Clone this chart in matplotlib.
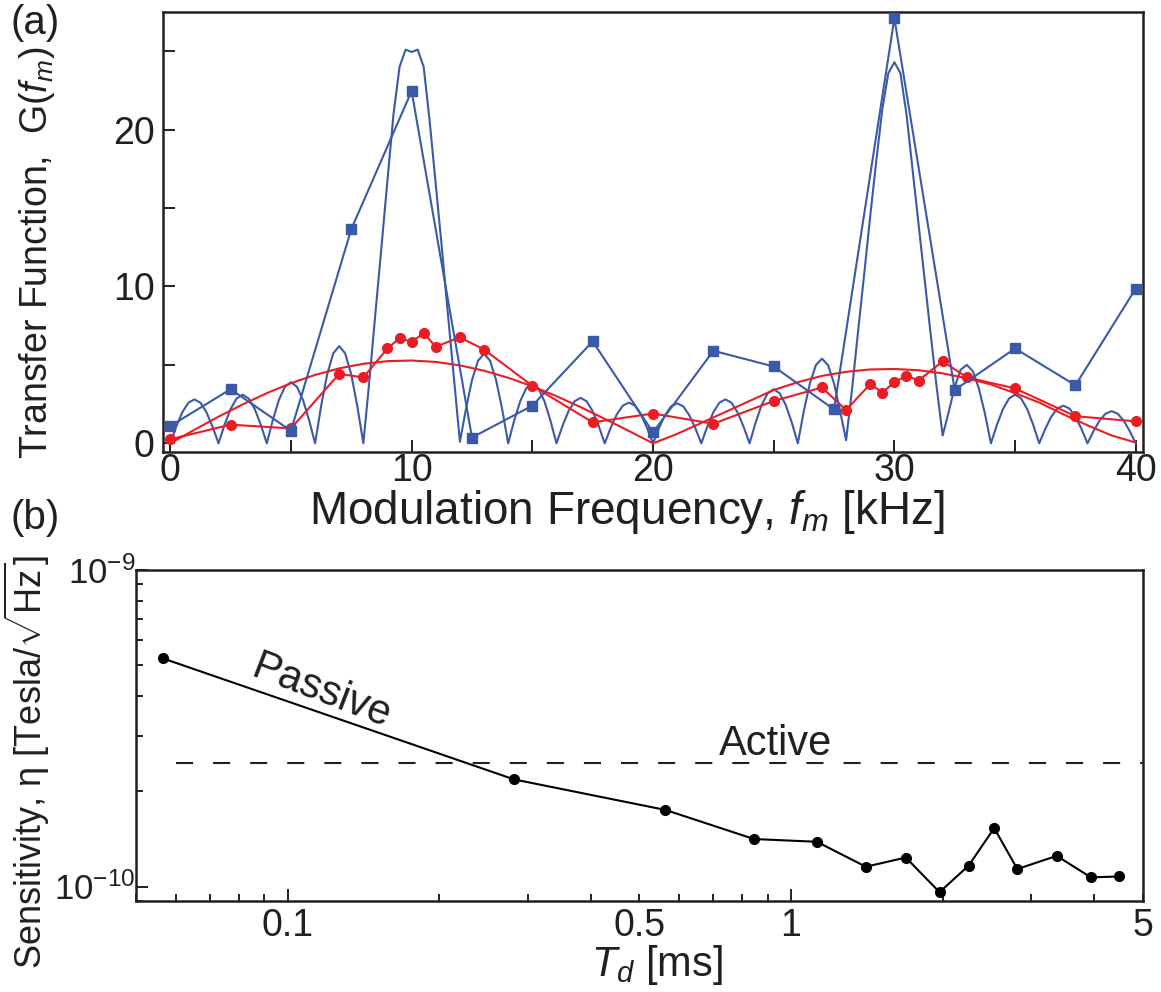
import numpy as np
import matplotlib
matplotlib.use("Agg")
import matplotlib.pyplot as plt
from matplotlib.ticker import FixedLocator, FuncFormatter, NullFormatter, LogLocator

plt.rcParams['font.family'] = ['Liberation Sans', 'DejaVu Sans']
plt.rcParams['mathtext.fontset'] = 'custom'
plt.rcParams['mathtext.rm'] = 'Liberation Sans'
plt.rcParams['mathtext.it'] = 'Liberation Sans:italic'
plt.rcParams['mathtext.bf'] = 'Liberation Sans:bold'

# ---------------- data: panel (a) ----------------
# measured transfer function (blue squares)
blue_freq = [0, 2.5, 5, 7.5, 10, 12.5, 15, 17.5, 20, 22.5, 25, 27.5, 30, 32.5, 35, 37.5, 40]
blue_gain = [1.1, 3.45, 0.8, 13.65, 22.46, 0.37, 2.4, 6.5, 0.7, 5.9, 4.9, 2.16, 27.1, 3.4, 6.05, 3.7, 9.87]

# measured transfer function (red circles)
red_freq = [0, 2.5, 5, 7, 8, 9, 9.5, 10, 10.5, 11, 12, 13, 15, 17.5, 20, 22.5, 25,
            27, 28, 29, 29.5, 30, 30.5, 31, 32, 33, 35, 37.5, 40]
red_gain = [0.26, 1.19, 0.95, 4.43, 4.2, 6.05, 6.7, 6.48, 7.02, 6.16, 6.76, 5.98, 3.67, 1.34, 1.9, 1.25, 2.7,
            3.56, 2.12, 3.78, 3.24, 3.89, 4.32, 4.0, 5.23, 4.21, 3.5, 1.73, 1.4]

# theory curve, blue (read every 0.25 kHz from 0 to 40)
blue_theory = [
    0, 1.07, 1.98, 2.59, 2.8, 2.59, 1.98, 1.07, 0,
    1.19, 2.19, 2.86, 3.1, 2.86, 2.19, 1.19, 0,
    1.49, 2.76, 3.6, 3.9, 3.6, 2.76, 1.49, 0,
    2.37, 4.38, 5.73, 6.2, 5.73, 4.38, 2.37, 0,
    4.0, 8.3, 12.5, 16.8, 21.0, 24.0, 25.1, 24.95, 25.1, 24.0, 20.5, 16.5, 12.5, 8.3, 4.2, 0.1,
    2.18, 4.03, 5.27, 5.7, 5.27, 4.03, 2.18, 0,
    1.46, 2.69, 3.51, 3.8, 3.51, 2.69, 1.46, 0,
    1.11, 2.05, 2.68, 2.9, 2.68, 2.05, 1.11, 0,
    1.0, 1.84, 2.4, 2.6, 2.4, 1.84, 1.0, 0,
    0.98, 1.8, 2.36, 2.55, 2.36, 1.8, 0.98, 0,
    1.07, 1.98, 2.59, 2.8, 2.59, 1.98, 1.07, 0,
    1.32, 2.44, 3.19, 3.45, 3.19, 2.44, 1.32, 0,
    2.07, 3.82, 4.99, 5.4, 4.99, 3.82, 2.07, 0.2,
    3.5, 7.2, 10.8, 14.5, 18.0, 21.3, 23.6, 24.3, 23.6, 21.0, 17.5, 14.0, 10.5, 7.0, 3.6, 0.5,
    2.0, 3.6, 4.7, 5.0, 4.6, 3.5, 1.9, 0,
    1.19, 2.19, 2.86, 3.1, 2.86, 2.19, 1.19, 0,
    0.92, 1.7, 2.22, 2.4, 2.22, 1.7, 0.92, 0,
    0.78, 1.45, 1.89, 2.05, 1.89, 1.45, 0.78, 0,
]
blue_theory_freq = np.linspace(0, 40, len(blue_theory))

# theory curve, red (read every 1 kHz from 0 to 40)
red_theory = [0, 0.86, 1.70, 2.48, 3.20, 3.83, 4.36, 4.78, 5.07, 5.24, 5.28, 5.19, 4.97, 4.63,
              4.18, 3.64, 3.01, 2.31, 1.56, 0.79, 0, 0.6, 1.3, 2.0, 2.7, 3.4, 3.9, 4.3, 4.56,
              4.71, 4.74, 4.66, 4.46, 4.15, 3.75, 3.2, 2.6, 1.85, 1.15, 0.5, 0.05]
red_theory_freq = np.linspace(0, 40, len(red_theory))

# ---------------- data: panel (b) ----------------
td_ms = [0.0565, 0.2818, 0.563, 0.844, 1.125, 1.408, 1.69, 1.972, 2.252, 2.532, 2.814, 3.37, 3.94, 4.487]
sensitivity = [5.26e-10, 2.18e-10, 1.746e-10, 1.413e-10, 1.385e-10, 1.155e-10, 1.235e-10,
               0.96e-10, 1.164e-10, 1.53e-10, 1.136e-10, 1.25e-10, 1.069e-10, 1.076e-10]
active_level = 2.46e-10

BLUE = '#3a5aa8'
RED = '#ec1c24'
TXT = '#231f20'

fig = plt.figure(figsize=(11.61, 9.92), dpi=100)
ax1 = fig.add_axes([0.1404, 0.5444, 0.8441, 0.4435])
ax2 = fig.add_axes([0.1171, 0.0917, 0.8674, 0.3337])

# ---- panel (a)
ax1.plot(blue_theory_freq, blue_theory, color=BLUE, lw=1.5, zorder=2)
ax1.plot(red_theory_freq, red_theory, color=RED, lw=1.5, zorder=2)
ax1.plot(red_freq, red_gain, color=RED, lw=1.5, marker='o', ms=7, zorder=3)
ax1.plot(blue_freq, blue_gain, color=BLUE, lw=1.5, marker='s', ms=7.5, zorder=4)

ax1.set_xlim(-0.3, 40.3)
ax1.set_ylim(-0.55, 27.5)
ax1.set_xticks([0, 10, 20, 30, 40])
ax1.set_xticks([5, 15, 25, 35], minor=True)
ax1.set_yticks([0, 10, 20])
ax1.set_yticks([5, 15, 25], minor=True)
ax1.tick_params(which='both', direction='in', length=8.6, width=1.4, labelsize=27,
                colors=TXT, labelcolor=TXT)
ax1.tick_params(axis='x', pad=1)
ax1.tick_params(axis='y', pad=6)
for s in ax1.spines.values():
    s.set_linewidth(1.8)
    s.set_color(TXT)

# ---- panel (b)
ax2.set_xscale('log')
ax2.set_yscale('log')
ax2.axhline(active_level, xmin=0.04, xmax=1.0, color=TXT, lw=1.5, dashes=(8.2, 9.6), zorder=2)
ax2.plot(td_ms, sensitivity, color='black', lw=1.5, marker='o', ms=7, zorder=3)
ax2.set_xlim(0.05, 5)
ax2.set_ylim(9e-11, 1e-9)

ax2.xaxis.set_major_locator(FixedLocator([0.1, 1]))
ax2.xaxis.set_minor_locator(LogLocator(base=10, subs=[2, 3, 4, 5, 6, 7, 8, 9], numticks=20))
ax2.xaxis.set_major_formatter(FuncFormatter(lambda v, p: {0.1: '0.1', 1: '1'}.get(round(v, 6), '')))
ax2.xaxis.set_minor_formatter(FuncFormatter(lambda v, p: {0.5: '0.5', 5: '5'}.get(round(v, 6), '')))
ax2.yaxis.set_major_locator(FixedLocator([1e-10, 1e-9]))
ax2.yaxis.set_minor_locator(LogLocator(base=10, subs=[2, 3, 4, 5, 6, 7, 8, 9], numticks=20))
ax2.yaxis.set_major_formatter(FuncFormatter(
    lambda v, p: r'$10^{%d}$' % int(round(np.log10(v)))))
ax2.yaxis.set_minor_formatter(NullFormatter())
ax2.tick_params(which='major', direction='in', length=8.6, width=1.4, labelsize=27,
                colors=TXT, labelcolor=TXT)
ax2.tick_params(which='minor', direction='in', length=5, width=1.4, labelsize=27,
                colors=TXT, labelcolor=TXT)
ax2.tick_params(axis='y', which='both', labelsize=25)
ax2.tick_params(axis='x', which='both', pad=5)
ax2.tick_params(axis='y', which='both', pad=0.5)
for s in ax2.spines.values():
    s.set_linewidth(1.8)
    s.set_color(TXT)

ax2.text(0.1167, 4.13e-10, 'Passive', rotation=-21, ha='center', va='center',
         fontsize=30, color=TXT, rotation_mode='anchor')
ax2.text(0.932, 2.61e-10, 'Active', ha='center', va='baseline', fontsize=30, color=TXT)

# ---- labels
fig.text(0.540, 0.472, r'Modulation Frequency, $f_m$ [kHz]', ha='center', va='baseline',
         fontsize=33, color=TXT)
fig.text(0.566, 0.027, r'$T_d$ [ms]', ha='center', va='center', fontsize=30, color=TXT)
fig.text(0.032, 0.745, r'Transfer Function,  G($f_m$)', rotation=90, ha='center', va='center',
         fontsize=27, color=TXT)
fig.text(0.023, 0.232, r'Sensitivity, η [Tesla/$\sqrt{\mathrm{Hz}}$]', rotation=90,
         ha='center', va='center', fontsize=26, color=TXT)
fig.text(0.030, 0.977, '(a)', ha='center', va='center', fontsize=29, color=TXT)
fig.text(0.030, 0.478, '(b)', ha='center', va='center', fontsize=29, color=TXT)

fig.savefig('out.png', dpi=100)
